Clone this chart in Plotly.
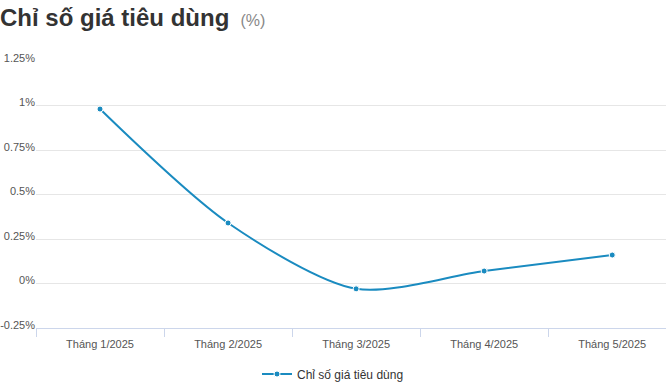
import plotly.graph_objects as go

months = ["Tháng 1/2025", "Tháng 2/2025", "Tháng 3/2025", "Tháng 4/2025", "Tháng 5/2025"]
cpi = [0.98, 0.34, -0.03, 0.07, 0.16]
series_name = "Chỉ số giá tiêu dùng"
y_tickvals = [-0.25, 0, 0.25, 0.5, 0.75, 1, 1.25]
y_ticktext = ["-0.25%", "0%", "0.25%", "0.5%", "0.75%", "1%", "1.25%"]

color = "#1a8bc0"

fig = go.Figure()
fig.add_trace(go.Scatter(
    x=months, y=cpi, name=series_name,
    mode="lines+markers",
    line=dict(color=color, width=2, shape="spline", smoothing=0.8),
    marker=dict(color=color, size=6, line=dict(color="white", width=1)),
    showlegend=True,
))

fig.update_layout(
    width=666, height=385,
    margin=dict(l=36, r=0, t=61, b=57, autoexpand=False),
    paper_bgcolor="white", plot_bgcolor="white",
    font=dict(family="Liberation Sans, Arial, sans-serif", color="#666666", size=11),
    title=dict(
        text="<b>Chỉ số giá tiêu dùng</b> <span style='font-size:16px;color:#888888'> (%)</span>",
        font=dict(family="Liberation Sans, Arial, sans-serif", size=24, color="#333333"),
        x=0.0, xanchor="left", xref="container",
        y=1 - 18 / 385, yanchor="middle", yref="container",
        pad=dict(l=0, t=0, b=0, r=0),
    ),
    legend=dict(
        orientation="h", x=0.5, xanchor="center", xref="container",
        y=11 / 385, yanchor="middle", yref="container",
        font=dict(size=12, color="#333333"),
    ),
    showlegend=True,
)

fig.update_xaxes(
    type="category",
    range=[-0.5, 4.42],
    showgrid=False,
    showline=True, linecolor="#ccd6eb", linewidth=1,
    ticks="outside", tickson="boundaries", ticklen=8, tickcolor="#ccd6eb",
    ticklabelstandoff=6,
    tickfont=dict(size=11, color="#555555"),
    automargin=False,
    fixedrange=True,
)
fig.update_yaxes(
    range=[-0.25, 1.25],
    tickvals=y_tickvals, ticktext=y_ticktext,
    showgrid=True, gridcolor="#e6e6e6", gridwidth=1,
    zeroline=False,
    showline=False,
    ticklabelshift=-3,
    tickfont=dict(size=11, color="#555555"),
    automargin=False,
    fixedrange=True,
)

fig.write_html(
    "out.html",
    config={"displayModeBar": False},
    post_script="document.body.style.margin='0';document.body.style.overflow='hidden';",
)
